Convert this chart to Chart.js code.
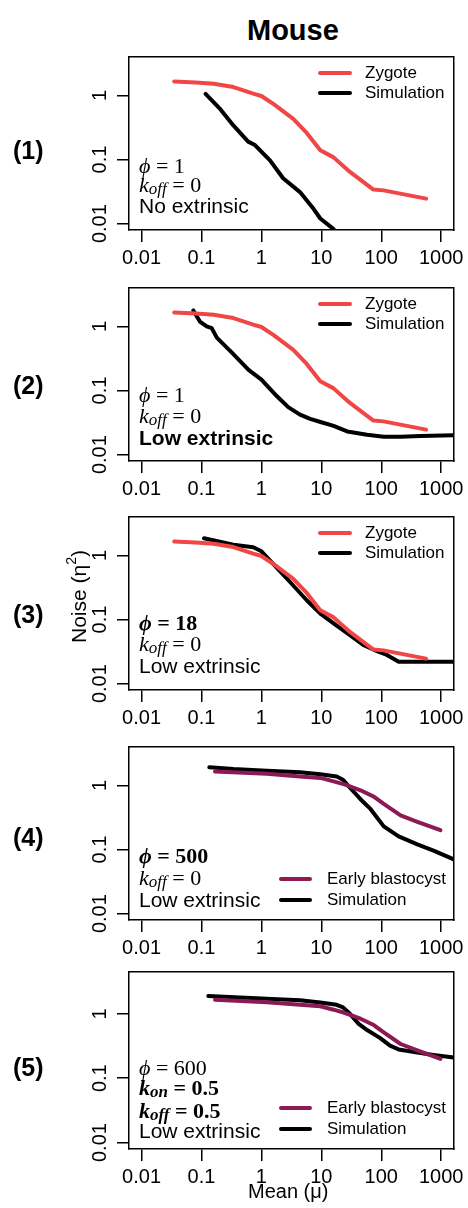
<!DOCTYPE html>
<html><head><meta charset="utf-8">
<script src="https://cdn.jsdelivr.net/npm/chart.js@4.4.1/dist/chart.umd.min.js"></script>
<style>
html,body{margin:0;padding:0;background:#fff;}
body{width:468px;height:1208px;position:relative;overflow:hidden;font-family:'Liberation Sans',Arial,Helvetica,sans-serif;color:#000;}
canvas{position:absolute;left:0;}
.t{position:absolute;white-space:nowrap;line-height:1;}
.sans{font-size:21px;}
.serif{font-family:'Liberation Serif','Times New Roman','DejaVu Serif',serif;font-size:22px;}
.sub{font-size:17px;position:relative;top:2px;}
.leg{position:absolute;white-space:nowrap;font-size:17px;line-height:20px;}
.sw{position:absolute;height:4px;border-radius:2px;}
#ylab{position:absolute;white-space:nowrap;line-height:1;font-size:21px;writing-mode:vertical-rl;transform:rotate(180deg);left:64px;top:550px;}
</style></head><body>
<div class="t" id="title" style="font-weight:bold;font-size:29px;left:247px;top:16px;">Mouse</div>
<div id="ylab">Noise (η<sup style="font-size:14px;">2</sup>)</div>
<div class="t" style="font-size:20px;left:248px;top:1181px;">Mean (μ)</div>
<script>
// ---------- data ----------
const xTickValues = [0.01, 0.1, 1, 10, 100, 1000];
const xTickLabels = ['0.01', '0.1', '1', '10', '100', '1000'];
const yTickValues = [0.01, 0.1, 1];
const yTickLabels = ['0.01', '0.1', '1'];

const zygoteMean  = [0.035, 0.08, 0.16, 0.34, 0.73, 1.0, 1.6, 3.4, 5.7, 9.6, 16, 30, 74, 109, 560];
const zygoteNoise = [1.65, 1.59, 1.52, 1.35, 1.07, 0.98, 0.73, 0.43, 0.26, 0.14, 0.108, 0.064, 0.034, 0.033, 0.0245];

const blastMean  = [0.168, 1.23, 4.4, 9.6, 16, 25, 45, 75, 110, 210, 400, 970];
const blastNoise = [1.65, 1.52, 1.38, 1.31, 1.16, 1.03, 0.84, 0.67, 0.515, 0.34, 0.27, 0.2];

const sim1Mean  = [0.117, 0.2, 0.34, 0.6, 0.78, 1.4, 2.3, 4.4, 7.4, 9.6, 16];
const sim1Noise = [1.06, 0.63, 0.34, 0.19, 0.168, 0.096, 0.051, 0.031, 0.017, 0.012, 0.0082];

const sim2Mean  = [0.073, 0.094, 0.122, 0.148, 0.18, 0.34, 0.61, 1.0, 1.8, 2.8, 4.4, 6.5, 10, 16, 27, 58, 110, 210, 450, 1620];
const sim2Noise = [1.78, 1.19, 1.0, 0.94, 0.67, 0.37, 0.21, 0.148, 0.082, 0.055, 0.042, 0.036, 0.032, 0.028, 0.023, 0.0204, 0.019, 0.019, 0.0195, 0.02];

const sim3Mean  = [0.11, 0.34, 0.73, 1.0, 1.58, 3.0, 5.7, 10, 18, 30, 50, 85, 124, 195, 400, 1620];
const sim3Noise = [1.85, 1.47, 1.34, 1.16, 0.73, 0.385, 0.2, 0.12, 0.08, 0.057, 0.04, 0.032, 0.028, 0.022, 0.022, 0.022];

const sim4Mean  = [0.135, 0.34, 1.23, 4.4, 9.6, 18, 23, 30, 45, 66, 110, 195, 400, 745, 1620];
const sim4Noise = [1.92, 1.8, 1.69, 1.61, 1.5, 1.38, 1.23, 0.92, 0.61, 0.43, 0.23, 0.16, 0.12, 0.096, 0.07];

const sim5Mean  = [0.13, 1.23, 4.4, 9.6, 18, 23, 30, 42, 58, 96, 140, 195, 400, 745, 1620];
const sim5Noise = [1.9, 1.72, 1.63, 1.5, 1.38, 1.26, 1.0, 0.7, 0.56, 0.42, 0.32, 0.28, 0.25, 0.23, 0.21];

const panelLabels = ['(1)', '(2)', '(3)', '(4)', '(5)'];

// ---------- styling / layout ----------
const RED = '#F04646';
const PURPLE = '#8C1A55';
const SANS = "'Liberation Sans', Arial, Helvetica, sans-serif";
const X_LOG_MIN = -2.21, X_LOG_MAX = 3.21, Y_LOG_MIN = -2.1;
const BOX_LEFT = 129, BOX_RIGHT = 454, PAD_TOP = 4, XAXIS_H = 45;
const LINE_W = 4;

const K = (s) => '<i>k</i><i class="sub">' + s + '</i>';
const PHI = '<i>ϕ</i>';

const panels = [
  { top: 52, h: 178, yMaxLog: 0.6, labelY: 153,
    exp: { label: 'Zygote', x: zygoteMean, y: zygoteNoise, color: RED },
    sim: { x: sim1Mean, y: sim1Noise }, legendTop: true,
    notes: [ { html: PHI + ' = 1', cls: 'serif', b: 57 }, { html: K('off') + ' = 0', cls: 'serif', b: 38 }, { html: 'No extrinsic', cls: 'sans', b: 17 } ] },
  { top: 283, h: 178, yMaxLog: 0.6, labelY: 388,
    exp: { label: 'Zygote', x: zygoteMean, y: zygoteNoise, color: RED },
    sim: { x: sim2Mean, y: sim2Noise }, legendTop: true,
    notes: [ { html: PHI + ' = 1', cls: 'serif', b: 59 }, { html: K('off') + ' = 0', cls: 'serif', b: 38 }, { html: '<b>Low extrinsic</b>', cls: 'sans', b: 16 } ] },
  { top: 512, h: 178, yMaxLog: 0.6, labelY: 617,
    exp: { label: 'Zygote', x: zygoteMean, y: zygoteNoise, color: RED },
    sim: { x: sim3Mean, y: sim3Noise }, legendTop: true,
    notes: [ { html: '<b>' + PHI + ' = 18</b>', cls: 'serif', b: 60 }, { html: K('off') + ' = 0', cls: 'serif', b: 39 }, { html: 'Low extrinsic', cls: 'sans', b: 17 } ] },
  { top: 742, h: 178, yMaxLog: 0.6, labelY: 840,
    exp: { label: 'Early blastocyst', x: blastMean, y: blastNoise, color: PURPLE },
    sim: { x: sim4Mean, y: sim4Noise }, legendTop: false,
    notes: [ { html: '<b>' + PHI + ' = 500</b>', cls: 'serif', b: 57 }, { html: K('off') + ' = 0', cls: 'serif', b: 35 }, { html: 'Low extrinsic', cls: 'sans', b: 13 } ] },
  { top: 967, h: 182, yMaxLog: 0.65, labelY: 1070,
    exp: { label: 'Early blastocyst', x: blastMean, y: blastNoise, color: PURPLE },
    sim: { x: sim5Mean, y: sim5Noise }, legendTop: false,
    notes: [ { html: PHI + ' = 600', cls: 'serif', b: 74 }, { html: '<b>' + K('on') + ' = 0.5</b>', cls: 'serif', b: 54 }, { html: '<b>' + K('off') + ' = 0.5</b>', cls: 'serif', b: 31 }, { html: 'Low extrinsic', cls: 'sans', b: 11 } ] },
];

const zip = (xs, ys) => xs.map((x, i) => ({ x: x, y: ys[i] }));

function addEl(tag, cls, style, html) {
  const el = document.createElement(tag);
  if (cls) el.className = cls;
  Object.assign(el.style, style);
  if (html !== undefined) el.innerHTML = html;
  document.body.appendChild(el);
  return el;
}

panels.forEach((p, idx) => {
  const canvas = document.createElement('canvas');
  const cw = 468, ch = PAD_TOP + p.h + XAXIS_H;
  canvas.width = cw; canvas.height = ch;
  canvas.style.width = cw + 'px'; canvas.style.height = ch + 'px';
  canvas.style.top = (p.top - PAD_TOP) + 'px';
  document.body.insertBefore(canvas, document.body.firstChild);

  new Chart(canvas, {
    type: 'scatter',
    data: { datasets: [
      { label: p.exp.label, data: zip(p.exp.x, p.exp.y), showLine: true, borderColor: p.exp.color, backgroundColor: p.exp.color,
        borderWidth: LINE_W, pointRadius: 0, tension: 0, borderCapStyle: 'round', borderJoinStyle: 'round', order: 0 },
      { label: 'Simulation', data: zip(p.sim.x, p.sim.y), showLine: true, borderColor: '#000', backgroundColor: '#000',
        borderWidth: LINE_W, pointRadius: 0, tension: 0, borderCapStyle: 'round', borderJoinStyle: 'round', order: 1 }
    ]},
    options: {
      responsive: false, animation: false, devicePixelRatio: 1, events: [],
      layout: { padding: { left: 0, right: cw - BOX_RIGHT, top: PAD_TOP, bottom: 0 } },
      plugins: { legend: { display: false }, tooltip: { enabled: false } },
      scales: {
        x: {
          type: 'logarithmic', position: 'bottom', min: Math.pow(10, X_LOG_MIN), max: Math.pow(10, X_LOG_MAX),
          afterBuildTicks: (s) => { s.ticks = xTickValues.map(v => ({ value: v })); },
          afterFit: (s) => { s.height = XAXIS_H; },
          ticks: { autoSkip: false, maxRotation: 0, minRotation: 0, padding: 4, color: '#000',
            font: { family: SANS, size: 20 }, callback: (v) => xTickLabels[xTickValues.indexOf(v)] },
          grid: { display: true, drawOnChartArea: false, drawTicks: true, tickLength: 12, color: '#000', lineWidth: 1.5 },
          border: { display: true, color: '#000', width: 1.5 }
        },
        y: {
          type: 'logarithmic', position: 'left', min: Math.pow(10, Y_LOG_MIN), max: Math.pow(10, p.yMaxLog),
          afterBuildTicks: (s) => { s.ticks = yTickValues.map(v => ({ value: v })); },
          afterFit: (s) => { s.width = BOX_LEFT; },
          ticks: { autoSkip: false, minRotation: 90, maxRotation: 90, crossAlign: 'center', padding: -3, color: '#000',
            font: { family: SANS, size: 20 }, callback: (v) => yTickLabels[yTickValues.indexOf(v)] },
          grid: { display: true, drawOnChartArea: false, drawTicks: true, tickLength: 12, color: '#000', lineWidth: 1.5 },
          border: { display: true, color: '#000', width: 1.5 }
        },
        xTop: {
          type: 'linear', position: 'top', min: 0, max: 1,
          afterFit: (s) => { s.height = 0; },
          ticks: { display: false }, grid: { display: false, drawTicks: false },
          border: { display: true, color: '#000', width: 1.5 }
        },
        yRight: {
          type: 'linear', position: 'right', min: 0, max: 1,
          afterFit: (s) => { s.width = 0; },
          ticks: { display: false }, grid: { display: false, drawTicks: false },
          border: { display: true, color: '#000', width: 1.5 }
        }
      }
    }
  });

  // panel label
  addEl('div', 't', { fontWeight: 'bold', fontSize: '25px', left: '13px', top: Math.round(p.labelY - 14.7) + 'px' }, panelLabels[idx]);

  // annotations
  const bottom = p.top + p.h;
  p.notes.forEach(n => {
    const off = n.cls === 'serif' ? 18.4 : 17.8;
    addEl('div', 't ' + n.cls, { left: '139px', top: Math.round(bottom - n.b - off) + 'px' }, n.html);
  });

  // legend
  let y1, y2, swL, swR, txL;
  if (p.legendTop) { y1 = p.top + 21; y2 = p.top + 41; swL = 318; swR = 352; txL = 365; }
  else { y1 = bottom - 41; y2 = bottom - 20; swL = 279; swR = 312; txL = 327; }
  [[y1, p.exp.color, p.exp.label], [y2, '#000', 'Simulation']].forEach(([yy, col, lab]) => {
    addEl('div', 'sw', { left: swL + 'px', width: (swR - swL) + 'px', top: (yy - 2) + 'px', background: col });
    addEl('div', 'leg', { left: txL + 'px', top: (yy - 10) + 'px' }, lab);
  });
});
</script>
</body></html>
